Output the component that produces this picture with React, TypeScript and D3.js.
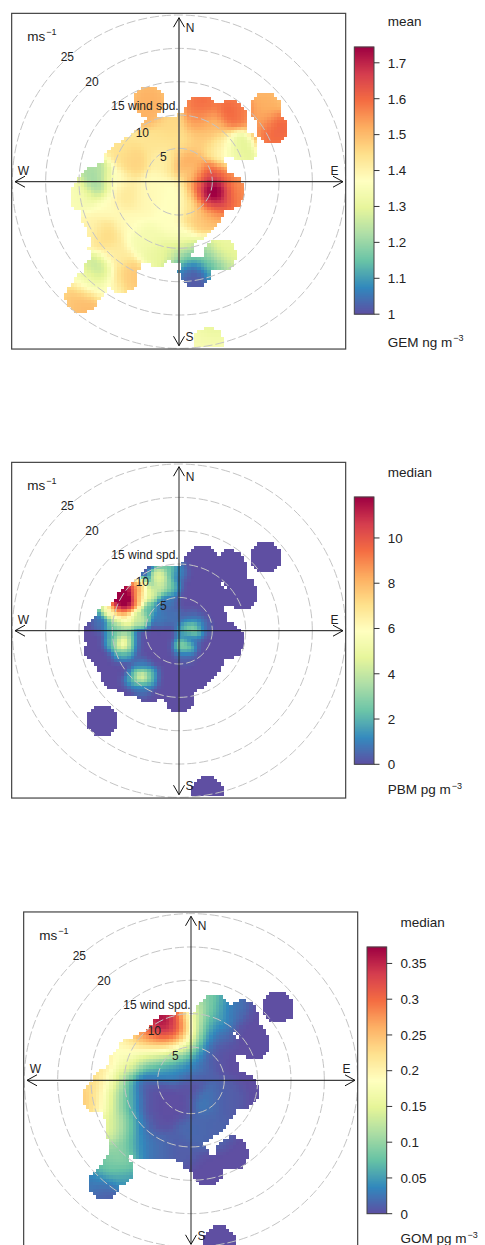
import React, { useMemo } from "react";
import * as d3 from "d3";

// Spectral palette used by the colour scale (low to high)
const spectral = ["#5E4FA2","#3288BD","#66C2A5","#ABDDA4","#E6F598","#FFFFBF","#FEE08B","#FDAE61","#F46D43","#D53E4F","#9E0142"];

const ringSpeeds = [5, 10, 15, 20, 25];
const ringLabels = ["5", "10", "15 wind spd.", "20", "25"];
const ringLabelU = [-2.35, -5.5, -5.1, -13.05, -16.75];
const ringLabelV = [3.75, 7.4, 11.4, 15, 18.75];

// Samples: [u east m/s, v north m/s, concentration]
const gemSamples = [
[0.9,3,1.56],[-1.85,3.25,1.41],[0,5.25,1.44],[-3.35,6.25,1.44],[-7.1,3.25,1.47],[-8.85,4.75,1.44],[-1.35,8.25,1.46],[3.15,6.25,1.48],[3.15,9.25,1.55],[3.4,11.25,1.61],[7.65,10.25,1.62],[5.15,8.25,1.5],[9.5,10.5,1.58],[6.15,5.25,1.42],[9.65,5.25,1.28],[8.15,4.25,1.33],[12.9,11.75,1.52],[12.4,9.25,1.53],[14.65,8,1.62],[13.15,6.75,1.6],[-4.5,12.25,1.52],[-4.5,10.25,1.52],
[5,-1.65,1.95],[4.4,-0.9,1.72],[5.4,-2.5,1.72],[3.65,0.75,1.62],[6.65,0.75,1.58],[2.65,-1.25,1.58],[5.15,-3.75,1.58],[7.65,-2.25,1.6],[9.15,-1.25,1.56],[1.9,1.25,1.44],[2.15,-3.25,1.42],[3.15,-5.75,1.48],[4.65,-5.25,1.5],[0.15,-1.75,1.36],
[-3.35,-1.25,1.38],[-1.85,-3.75,1.37],[-4.85,-2.75,1.39],[-7.85,-2.25,1.43],[-9.85,0.25,1.38],[-12.6,-0.5,1.18],[-12.35,1.25,1.22],[-14.35,-2.25,1.34],[-15.6,-1.75,1.36],[-10.85,-3.75,1.38],[-10.85,-7.75,1.46],[-13.35,-6.75,1.4],[-7.85,-6.25,1.38],[-5.35,-8.75,1.34],[-3.35,-11.25,1.31],[-0.85,-11.25,1.29],[0.65,-8.75,1.37],[1.15,-10.75,1.16],[2.4,-13.75,1],[0.4,-13.25,1.04],[2.65,-15.25,1],[4.65,-12.75,1.1],[4.15,-11,1.2],[6.15,-12.75,1.2],[6.15,-10.25,1.32],[7.65,-11.25,1.3],
[-11.85,-13.5,1.24],[-13.35,-15.25,1.34],[-14.85,-17.75,1.49],[-13.85,-18.75,1.51],[-8.35,-14.25,1.47],[-6.85,-14.25,1.49],[-9.35,-11.25,1.42],[-10.35,-15.75,1.38],[4.4,-22.75,1.3],[4.4,-24.5,1.36],[2.65,-23.75,1.35],
];
const pbmSamples = [
[-8.6,5.6,14],[-7.6,6.2,13],[-9.3,5.3,14],[-7.6,4.6,14],[-8.35,4.1,14],[-9.35,4.3,13],[-8.6,3.4,12],[-6.6,5.6,10],[-6.6,4.1,9.5],[-6.1,6.4,8.5],[-5.6,5.1,6.5],[-8.35,2.6,8.5],[-9.6,3.1,8],[-10.6,3.1,6],[-7.85,1.6,6],[-9.35,1.6,5],[-5.85,1.85,4.8],[-4.6,3.1,2.5],[-4.1,5.6,5],[-2.85,8.1,5.5],[-2.35,6.6,5],[-1.35,9.1,3.2],[-0.35,8.85,1],[-1.35,6.6,2.2],[-1.85,4.6,1],[-2.85,2.1,1],[-0.85,2.1,0.8],[-11.6,1.35,0.8],[-9.85,0.6,2.5],
[-8.35,-1.9,8.5],[-9.6,-1.65,2.4],[-7.1,-1.9,2],[-8.35,-3.4,2],[-8.35,-0.4,3.4],[-5.6,-6.9,7.2],[-6.85,-6.9,2],[-4.35,-6.9,2],[-5.6,-8.4,0.8],[-5.6,-5.4,0.8],[2.15,0.35,5],[1.15,0.1,2.2],[3.15,0.6,0.6],[1.9,1.6,0.5],[0.9,-2.4,4],[0.9,-3.65,0.3],[1.65,-1.15,0.5],[-5.6,-2,0],[-3.5,-3.5,0],[-8.5,-5.8,0],[-2,-7,0],
];
const gomSamples = [
[-15.9,-2.95,0.25],[-14.15,-2.95,0.22],[-12.65,-2.95,0.19],[-11.65,-2.95,0.15],[-10.65,-2.95,0.11],[-9.9,-2.95,0.07],[-9.15,-2.95,0.04],[-7.15,-2.95,0.012],[-4.65,-2.95,0],
[-14.4,0.05,0.24],[-12.65,0.05,0.19],[-11.15,0.05,0.17],[-9.65,0.05,0.05],[-7.15,0.05,0.005],
[-13.65,2.55,0.23],[-12.15,2.55,0.2],[-10.15,2.55,0.18],[-9.15,2.55,0.16],[-7.15,2.55,0.08],
[-7.15,4.05,0.17],[-9.15,4.05,0.19],[-7.15,5.55,0.25],[-9.15,5.55,0.21],[-7.15,6.8,0.3],
[-12.15,-6.95,0.17],[-11.15,-6.95,0.14],[-10.15,-6.95,0.1],[-9.15,-6.95,0.06],[-7.15,-6.95,0.02],
[-10.65,-9.95,0.11],[-9.15,-9.95,0.06],[-7.15,-9.95,0.03],[-4.65,-9.95,0.02],[-2.15,-9.95,0.01],
[-0.15,9.55,0.2],[-0.15,7.05,0.24],[-0.15,5.05,0.15],[-0.15,3.05,0.05],[-0.15,1.55,0.02],
[1.35,10.55,0.13],[1.35,8.05,0.1],[1.35,5.55,0.05],[1.35,3.05,0.01],
[2.85,12.05,0.1],[2.85,9.55,0.05],[2.85,7.05,0.02],[2.85,4.55,0],[3.85,12.05,0.07],[5.35,11.55,0.02],
[-2.15,9.05,0.31],[-2.15,7.05,0.31],[-2.15,5.05,0.2],[-2.15,3.55,0.08],[-2.15,2.05,0.03],
[-3.65,9.05,0.39],[-3.65,7.05,0.39],[-3.65,5.55,0.27],[-3.65,4.05,0.17],[-3.65,2.55,0.06],[-3.65,1.55,0.02],
[-5.15,7.05,0.36],[-5.15,5.55,0.25],[-5.15,4.05,0.16],[-5.15,2.55,0.1],[-5.15,1.05,0.02],
[-11.15,-12.45,0.09],[-12.65,-12.95,0.08],[-10.65,-11.5,0.1],[-13.9,-15.45,0.03],[-10.65,-14.45,0.05],[-12.65,-16.95,0.01],
[-4.65,-1.95,0],[0,-1,0],[-2,-4,0],[-5,-6,0],[-5,-3,0],[2.35,-2.95,0.03],[4.5,-3,0.01],[0,-7.5,0.018],[3,-7,0.015],
];

// Occupied wind bins: [u, v, radius] in m/s
const gemCoverage = [
[-1.85,-0.75,9.5],[-1.35,7.5,2.5],[-3.6,7.25,2.5],[-7.1,4.25,2.5],[-12.6,-0.15,2.5],[-13.85,-2.25,2.5],[-11.35,-6.75,2.5],[-9.35,-8.75,2.5],[-6.1,-9.75,2.5],[-3.35,-10.25,2.5],[-0.35,-9.75,2.5],[-11.85,-13.5,2.5],[-8.6,-14.25,2.5],[-8.1,-11.75,2.5],[-13.35,-15.75,2.5],[-14.6,-17.25,2.5],[2.4,-13.5,2.4],[6.15,-11,2.5],[7.15,-1.5,2.75],[4.65,5.75,2.75],[1.65,8.25,2.5],[3.4,10.5,2.5],[7.65,9.65,2.5],[5.15,8.25,2.5],[12.9,11,2.4],[13.9,8.1,2.4],[9.65,5.25,2.25],[4.4,-24.25,2.4],[-4.5,12.1,2.4],
[-11.85,-4.75,3],[-10.35,-2.25,3],[-9.35,-9.75,2.5],[-8.35,2.75,3],[-10.35,0.75,2.5],[8.15,7.25,2.25],[6.65,5.75,2],[-11,-10,2.5],
];
const pbmCoverage = [
[-1.85,-0.75,9.5],[-1.35,7.5,2.5],[-3.6,7.25,2.5],[-7.1,4.25,2.5],[-11.85,-0.4,2.5],[-11.85,-2.9,2.25],[-9.6,-5.4,2.5],[-4.35,-8.65,2.25],[0.15,-10.15,2.25],[7.15,-1.55,2.75],[4.65,5.6,2.75],[1.65,8.1,2.5],[3.4,10.35,2.5],[7.65,9.6,2.5],[5.15,8.1,2.5],[12.9,11,2.4],[9.4,5.6,2.5],[8.15,7.1,2.5],[-11.6,-13.5,2.4],[4.25,-24.25,2.4],
[-7.1,-7.4,2.5],[-9.6,-6.9,2],[-10.35,1.6,2.25],[6.65,5.6,2],
];
const gomCoverage = [
[-1.85,-0.6,9.5],[-1.35,7.65,2.5],[-3.6,7.4,2.5],[-7.1,4.4,2.5],[-13.9,-2.45,2.5],[-12.4,-0.2,2.25],[-9.9,-7.45,3],[-9.9,2.55,2.5],[-5.65,-9.7,2.25],[-3.15,-9.7,2.25],[0.6,-11.45,2.25],[2.35,-13.45,2.4],[6.1,-10.95,2.5],[-11.15,-13.45,2.4],[-12.9,-15.45,2.4],[9.45,5.55,2.5],[8.2,7.05,2.5],[13.1,10.95,2.4],[7.45,-1.6,2.75],[4.65,5.55,2.75],[1.65,8.05,2.5],[3.4,10.3,2.5],[7.65,9.55,2.5],[5.15,8.05,2.5],[4.25,-24.2,2.4],
[-10.15,-3.95,2.5],[-11.15,-4.95,2],[-8.35,3.55,3],[-10.65,0.55,2.5],[-7.65,-9.45,2.25],[-1.15,-9.95,2.25],[6.65,5.55,2],[-10.9,-11,1.5],
];
const emptyBins = [[6.5,7],[7,6.5]];

const gemTicks = [1, 1.1, 1.2, 1.3, 1.4, 1.5, 1.6, 1.7];
const pbmTicks = [0, 2, 4, 6, 8, 10];
const gomTicks = [0, 0.05, 0.1, 0.15, 0.2, 0.25, 0.3, 0.35];

const panels = [
  { samples: gemSamples, coverage: gemCoverage, holes: [], lo: 1, hi: 1.744, bg: 1.37, weight: 0.05, band: 1.3, axisStroke: "#555", axisWidth: 1.5, ticks: gemTicks, stat: "mean", name: "GEM ng m", cx: 179, cy: 181.7, barX: 354.3, barTop: 47, barBottom: 314.2, textY: 346.7, statY: 26 },
  { samples: pbmSamples, coverage: pbmCoverage, holes: emptyBins, lo: 0, hi: 11.81, bg: 0, weight: 0.18, band: 0.75, axisStroke: "#222", axisWidth: 1, ticks: pbmTicks, stat: "median", name: "PBM pg  m", cx: 179, cy: 630.7, barX: 354.3, barTop: 497, barBottom: 764.3, textY: 794, statY: 476.7 },
  { samples: gomSamples, coverage: gomCoverage, holes: emptyBins, lo: 0, hi: 0.373, bg: 0, weight: 0.03, band: 1.3, axisStroke: "#222", axisWidth: 1, ticks: gomTicks, stat: "median", name: "GOM pg  m", cx: 191, cy: 1080.3, barX: 367, barTop: 947, barBottom: 1213.7, textY: 1243, statY: 926.7 },
];

const FONT = "'Liberation Sans', Arial, sans-serif";
const STEP = 0.5;
const PX = 6.667;

function field(p: any) {
  const cells: { u: number; v: number; z: number }[] = [];
  for (let i = -50; i <= 50; i++) {
    for (let j = -49; j <= 49; j++) {
      const u = i * STEP, v = j * STEP;
      if (!p.coverage.some((c: number[]) => Math.hypot(u - c[0], v - c[1]) <= c[2])) continue;
      if (p.holes.some((h: number[]) => h[0] === u && h[1] === v)) continue;
      let sw = p.weight, sz = p.weight * p.bg;
      for (const s of p.samples) {
        const d = Math.hypot(u - s[0], v - s[1]);
        const w = Math.exp(-(d * d) / (2 * p.band * p.band));
        sw += w; sz += w * s[2];
      }
      cells.push({ u, v, z: sz / sw });
    }
  }
  return cells;
}

function Panel({ p }: { p: any }) {
  const x = d3.scaleLinear().domain([-25, 25]).range([p.cx - 25 * PX, p.cx + 25 * PX]);
  const y = d3.scaleLinear().domain([-25, 25]).range([p.cy + 25 * PX, p.cy - 25 * PX]);
  const ramp = d3.scaleLinear<string>().domain(spectral.map((_, i) => p.lo + (i / 10) * (p.hi - p.lo))).range(spectral).interpolate(d3.interpolateRgb).clamp(true);
  const barY = d3.scaleLinear().domain([p.lo, p.hi]).range([p.barBottom, p.barTop]);
  const cells = useMemo(() => field(p), [p]);
  const barSteps = d3.range(0, 268).map((i) => p.lo + ((i + 0.5) / 268) * (p.hi - p.lo));
  const barW = 19.7;
  const tip = 24.6;
  const ax = { l: x(-tip), r: x(tip), t: y(tip), b: y(-tip) };
  const boxL = x(-25.1), boxR = x(25), boxT = y(25.25), boxB = y(-25.1);
  const textX = p.barX + 33.4;
  return (
    <g fontFamily={FONT} fill="#222">
      <g filter="url(#soft)" shapeRendering="crispEdges">
        {cells.map((c, i) => (
          <rect key={i} x={x(c.u - STEP / 2)} y={y(c.v + STEP / 2)} width={x(STEP) - x(0)} height={x(STEP) - x(0)} fill={ramp(c.z)} />
        ))}
      </g>
      {ringSpeeds.map((r) => (
        <circle key={r} cx={x(0)} cy={y(0)} r={x(r) - x(0)} fill="none" stroke="#c4c4c4" strokeWidth={1} strokeDasharray="9 3" />
      ))}
      <g stroke="#111" strokeWidth={1} fill="none">
        <path d={`M${x(0)},${ax.t}L${x(0)},${ax.b}`} stroke={p.axisStroke} strokeWidth={p.axisWidth} />
        <path d={`M${ax.l},${y(0)}L${ax.r},${y(0)}`} />
        <path d={`M${x(0) - 5.5},${ax.t + 9.5}L${x(0)},${ax.t}L${x(0) + 5.5},${ax.t + 9.5}`} />
        <path d={`M${x(0) - 5.5},${ax.b - 9.5}L${x(0)},${ax.b}L${x(0) + 5.5},${ax.b - 9.5}`} />
        <path d={`M${ax.l + 10},${y(0) - 5.5}L${ax.l},${y(0)}L${ax.l + 10},${y(0) + 5.5}`} />
        <path d={`M${ax.r - 10},${y(0) - 5.5}L${ax.r},${y(0)}L${ax.r - 10},${y(0) + 5.5}`} />
      </g>
      <rect x={boxL} y={boxT} width={boxR - boxL} height={boxB - boxT} fill="none" stroke="#444" strokeWidth={1.2} />
      <g fontSize={12}>
        <text x={x(0) + 11} y={ax.t + 14} textAnchor="middle">N</text>
        <text x={x(0) + 10.5} y={ax.b - 4.5} textAnchor="middle">S</text>
        <text x={ax.l + 8.5} y={y(0) - 7} textAnchor="middle">W</text>
        <text x={ax.r - 8.5} y={y(0) - 7} textAnchor="middle">E</text>
        {ringLabels.map((t, i) => (
          <text key={t} x={x(ringLabelU[i])} y={y(ringLabelV[i]) + 4.3} textAnchor="middle">{t}</text>
        ))}
      </g>
      <text x={boxL + 15.6} y={boxT + 27.7} fontSize={13.5}>ms<tspan fontSize={9} dy={-6} dx={1}>−1</tspan></text>
      {barSteps.map((z, i) => (
        <rect key={i} x={p.barX} y={barY(z) - 0.8} width={barW} height={1.6} fill={ramp(z)} />
      ))}
      <rect x={p.barX} y={p.barTop} width={barW} height={p.barBottom - p.barTop} fill="none" stroke="#444" strokeWidth={1} />
      {p.ticks.map((t: number) => (
        <g key={t}>
          <line x1={p.barX + barW} x2={p.barX + barW + 5.5} y1={barY(t)} y2={barY(t)} stroke="#333" strokeWidth={1} />
          <text x={textX} y={barY(t) + 4.8} fontSize={13.4}>{t}</text>
        </g>
      ))}
      <text x={textX} y={p.statY} fontSize={13.5}>{p.stat}</text>
      <text x={textX} y={p.textY} fontSize={13.5}>{p.name}<tspan fontSize={9} dy={-5.5} dx={1}>−3</tspan></text>
    </g>
  );
}

export default function App() {
  return (
    <svg width={485} height={1245} viewBox="0 0 485 1245" style={{ position: "absolute", left: 0, top: 0, display: "block", background: "#fff" }}>
      <defs>
        <filter id="soft" x="-5%" y="-5%" width="110%" height="110%"><feGaussianBlur stdDeviation={0.45} /></filter>
      </defs>
      {panels.map((p) => <Panel key={p.name} p={p} />)}
    </svg>
  );
}
